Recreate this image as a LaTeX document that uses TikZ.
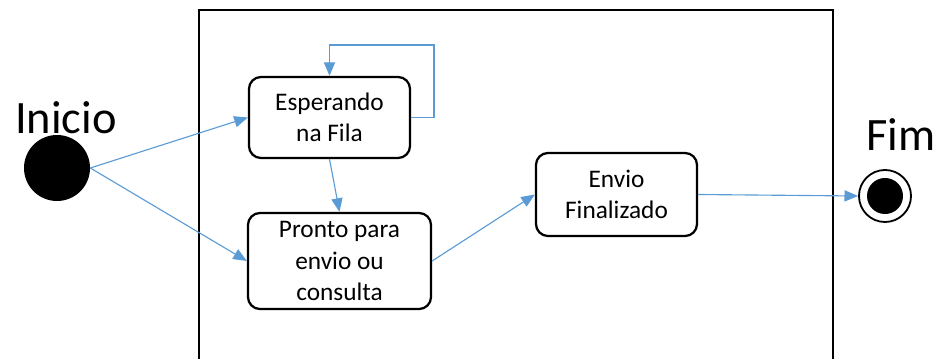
\documentclass[tikz,border=0pt]{standalone}
\usepackage{fontspec}
\setmainfont{Carlito}
\usetikzlibrary{positioning,arrows.meta}

\definecolor{fluxo}{RGB}{91,155,213}

\tikzset{
	estado/.style={draw, line width=1.6pt, rounded corners=0.3cm, align=center, inner sep=0pt, font=\fontsize{18}{22.3}\selectfont},
	seta/.style={-{Triangle[length=3.4mm,width=2.8mm]}, fluxo, line width=0.8pt},
	rotulo/.style={font=\fontsize{33}{38}\selectfont, inner sep=0pt}
}

\begin{document}
\begin{tikzpicture}[x=0.025cm,y=-0.025cm]
	\pgfmathsetmacro{\LoopX}{434}
	\pgfmathsetmacro{\LoopY}{45}
	\useasboundingbox (0,0) rectangle (945,359);
	% moldura
	\draw[line width=1.6pt] (199,365) -- (199,10) -- (833,10) -- (833,365);
	% inicio e fim
	\node[circle, fill=black, minimum size=1.65cm, inner sep=0pt] (inicio) at (57,168) {};
	\node[rotulo] (txtinicio) at (66,118) {Inicio};
	\node[circle, draw, line width=1.3pt, minimum size=1.3cm, inner sep=0pt] (fim) at (885,196) {};
	\node[circle, fill=black, minimum size=0.9cm, inner sep=0pt] (fimin) at (fim) {};
	\node[rotulo] (txtfim) at (901,135) {Fim};
	% estados
	\node[estado, minimum width=4.025cm, minimum height=2.025cm] (espera) at (329.5,117.5) {Esperando\\na Fila};
	\node[estado, minimum width=4.575cm, minimum height=2.4cm] (pronto) at (339.5,261) {Pronto para\\envio ou\\consulta};
	\node[estado, minimum width=4.025cm, minimum height=2.075cm] (final) at (616.5,194.5) {Envio\\Finalizado};
	% transicoes
	\draw[seta] (inicio.east) -- (espera.west);
	\draw[seta] (inicio.east) -- (pronto.west);
	\draw[seta] (espera.south) -- (pronto.north);
	\draw[seta] (espera.east) -- (espera.east -| \LoopX,0) -- (\LoopX,\LoopY) -- (espera.north |- 0,\LoopY) -- (espera.north);
	\draw[seta] (pronto.east) -- (final.west);
	\draw[seta] (final.east) -- (fim.west);
\end{tikzpicture}
\end{document}
